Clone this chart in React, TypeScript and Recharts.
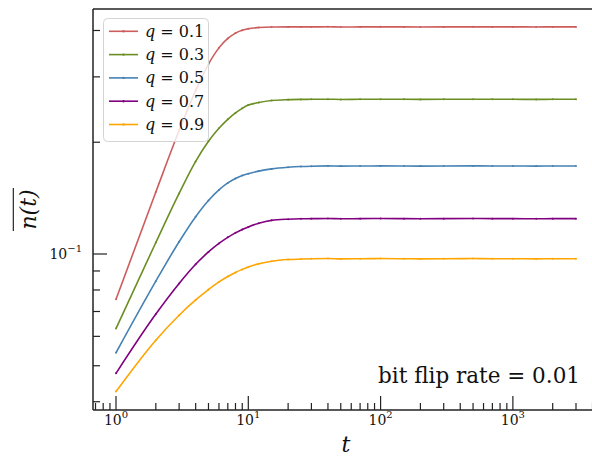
import * as React from 'react';
import { LineChart, Line, XAxis, YAxis, Legend, Label, ReferenceLine } from 'recharts';

// time steps (integer t, thinned out once the curves are flat)
const T = [1, 2, 3, 4, 5, 6, 7, 8, 9, 10, 12, 15, 20, 25, 30, 40, 50, 70, 100, 150, 200, 300, 500, 700, 1000, 1500, 2000, 3000];

// mean n(t) per q
const Q01 = [0.0755, 0.1469, 0.215, 0.2754, 0.3247, 0.3591, 0.3807, 0.3936, 0.4006, 0.4045, 0.4075, 0.4088, 0.409, 0.409, 0.409, 0.4092, 0.4088, 0.409, 0.4091, 0.409, 0.4089, 0.409, 0.4091, 0.409, 0.409, 0.4089, 0.409, 0.409];
const Q03 = [0.063, 0.1074, 0.1456, 0.1776, 0.2012, 0.2181, 0.2305, 0.2399, 0.2468, 0.2518, 0.2558, 0.259, 0.2605, 0.2609, 0.261, 0.2612, 0.2608, 0.261, 0.2611, 0.261, 0.2609, 0.261, 0.2611, 0.261, 0.261, 0.2609, 0.261, 0.261];
const Q05 = [0.0542, 0.0845, 0.1079, 0.126, 0.1393, 0.1488, 0.1554, 0.1598, 0.1627, 0.1646, 0.1672, 0.1695, 0.1712, 0.172, 0.1724, 0.1727, 0.1725, 0.1726, 0.1727, 0.1726, 0.1725, 0.1726, 0.1727, 0.1726, 0.1726, 0.1725, 0.1726, 0.1726];
const Q07 = [0.0477, 0.0689, 0.0833, 0.0938, 0.1013, 0.1068, 0.1109, 0.114, 0.1164, 0.1183, 0.121, 0.1232, 0.1241, 0.1244, 0.1245, 0.1246, 0.1244, 0.1245, 0.1246, 0.1245, 0.1244, 0.1245, 0.1246, 0.1245, 0.1245, 0.1244, 0.1245, 0.1245];
const Q09 = [0.0426, 0.0586, 0.0684, 0.0752, 0.0802, 0.0841, 0.087, 0.0892, 0.0909, 0.0923, 0.0941, 0.0956, 0.0966, 0.0969, 0.0971, 0.0972, 0.097, 0.0971, 0.0972, 0.0971, 0.097, 0.0971, 0.0972, 0.0971, 0.0971, 0.097, 0.0971, 0.0971];

const Q_LABELS = ['0.1', '0.3', '0.5', '0.7', '0.9'];
const COLORS = ['#CD5C5C', '#6B8E23', '#4682B4', '#800080', '#FFA500'];
const SERIES = [Q01, Q03, Q05, Q07, Q09];

// axes
const X_DOMAIN = [0.67, 4477];
const Y_DOMAIN = [0.038, 0.457];
const X_MAJOR = [1, 10, 100, 1000];
const X_MINOR = [0.7, 0.8, 0.9, 2, 3, 4, 5, 6, 7, 8, 9, 20, 30, 40, 50, 60, 70, 80, 90, 200, 300, 400, 500, 600, 700, 800, 900, 2000, 3000, 4000];
const Y_MAJOR = [0.1];
const Y_MINOR = [0.04, 0.05, 0.06, 0.07, 0.08, 0.09, 0.2, 0.3, 0.4];
const ANNOTATION = 'bit flip rate = 0.01';

const data = T.map((t, i) => {
  const row: Record<string, number> = { t };
  SERIES.forEach((s, k) => { row['s' + k] = s[i]; });
  return row;
});

const SPINE = '#222';

const exp10 = (v: number) => Math.round(Math.log10(v)).toString().replace('-', '\u2212');

function XTick({ x, y, payload }: any) {
  const major = X_MAJOR.includes(payload.value);
  return (
    <g>
      <line x1={x} x2={x} y1={y} y2={y - (major ? 14 : 7)} stroke={SPINE} strokeWidth={1.2} />
      {major && (
        <text x={x} y={y + 15} textAnchor="middle" fontFamily="DejaVu Serif" fontSize={14} fill="#111">
          10<tspan dy={-7} fontSize={10}>{exp10(payload.value)}</tspan>
        </text>
      )}
    </g>
  );
}

function YTick({ x, y, payload }: any) {
  const major = Y_MAJOR.includes(payload.value);
  return (
    <g>
      <line x1={x} x2={x + (major ? 14 : 7)} y1={y} y2={y} stroke={SPINE} strokeWidth={1.2} />
      {major && (
        <text x={x - 11} y={y + 5} textAnchor="end" fontFamily="DejaVu Serif" fontSize={14} fill="#111">
          10<tspan dy={-7} fontSize={10}>{exp10(payload.value)}</tspan>
        </text>
      )}
    </g>
  );
}

function YLabel({ viewBox }: any) {
  const cx = viewBox.x + 30;
  const cy = viewBox.y + viewBox.height / 2;
  return (
    <g transform={`translate(${cx},${cy}) rotate(-90)`}>
      <text x={0} y={5.5} textAnchor="middle" fontFamily="DejaVu Serif" fontStyle="italic" fontSize={22} fill="#111">n(t)</text>
      <line x1={-21.5} x2={21.5} y1={-16.7} y2={-16.7} stroke="#111" strokeWidth={1.1} />
    </g>
  );
}

function XLabel({ viewBox }: any) {
  return (
    <text x={viewBox.x + viewBox.width / 2} y={452} textAnchor="middle" fontFamily="DejaVu Serif" fontStyle="italic" fontSize={22} fill="#111">t</text>
  );
}

function LegendBox({ payload }: any) {
  return (
    <svg width={107} height={125} style={{ display: 'block' }}>
      <rect x={0.5} y={0.5} width={105} height={123} rx={4} fill="#fff" fillOpacity={0.8} stroke="#d4d4d4" />
      {(payload || []).map((p: any, i: number) => {
        const cy = 13.3 + 23.3 * i;
        return (
          <g key={p.value}>
            <line x1={6} x2={35} y1={cy} y2={cy} stroke={p.color} strokeWidth={1.6} />
            <circle cx={20.5} cy={cy} r={1.2} fill={p.color} />
            <text x={42} y={cy + 5.5} fontFamily="DejaVu Serif" fontSize={16} fill="#111">
              <tspan fontStyle="italic">q</tspan> = {p.value}
            </text>
          </g>
        );
      })}
    </svg>
  );
}

export default function App() {
  return (
    <div style={{ position: 'absolute', left: 0, top: 0, width: 592, height: 458, overflow: 'hidden', background: '#fff' }}>
      <LineChart width={610} height={458} data={data} margin={{ top: 9, right: 11, bottom: 0, left: 0 }}>
        <XAxis
          dataKey="t" type="number" scale="log" domain={X_DOMAIN} allowDataOverflow
          ticks={[...X_MAJOR, ...X_MINOR].sort((a, b) => a - b)} interval={0}
          tick={<XTick />} tickLine={false} tickSize={0} tickMargin={0} height={48}
          axisLine={{ stroke: SPINE, strokeWidth: 1.5 }}
        >
          <Label content={<XLabel />} />
        </XAxis>
        <YAxis
          type="number" scale="log" domain={Y_DOMAIN} allowDataOverflow
          ticks={[...Y_MINOR, ...Y_MAJOR].sort((a, b) => a - b)} interval={0}
          tick={<YTick />} tickLine={false} tickSize={0} tickMargin={0} width={93}
          axisLine={{ stroke: SPINE, strokeWidth: 1.5 }}
        >
          <Label content={<YLabel />} />
        </YAxis>
        <ReferenceLine y={Y_DOMAIN[1]} stroke={SPINE} strokeWidth={1.5} ifOverflow="visible" />
        {SERIES.map((_, k) => (
          <Line
            key={k} dataKey={'s' + k} name={Q_LABELS[k]} type="monotone"
            stroke={COLORS[k]} strokeWidth={1.6}
            dot={{ r: 1, strokeWidth: 0, fill: COLORS[k] }}
            activeDot={false} isAnimationActive={false}
          />
        ))}
        <Legend
          layout="horizontal" verticalAlign="middle" align="center"
          content={<LegendBox />}
          wrapperStyle={{ position: 'absolute', left: 103, top: 18, width: 'auto', height: 'auto' }}
        />
      </LineChart>
      <svg width={592} height={458} style={{ position: 'absolute', left: 0, top: 0, pointerEvents: 'none' }}>
        <text x={580} y={383} textAnchor="end" fontFamily="DejaVu Serif" fontSize={21.5} fill="#111">{ANNOTATION}</text>
      </svg>
    </div>
  );
}
